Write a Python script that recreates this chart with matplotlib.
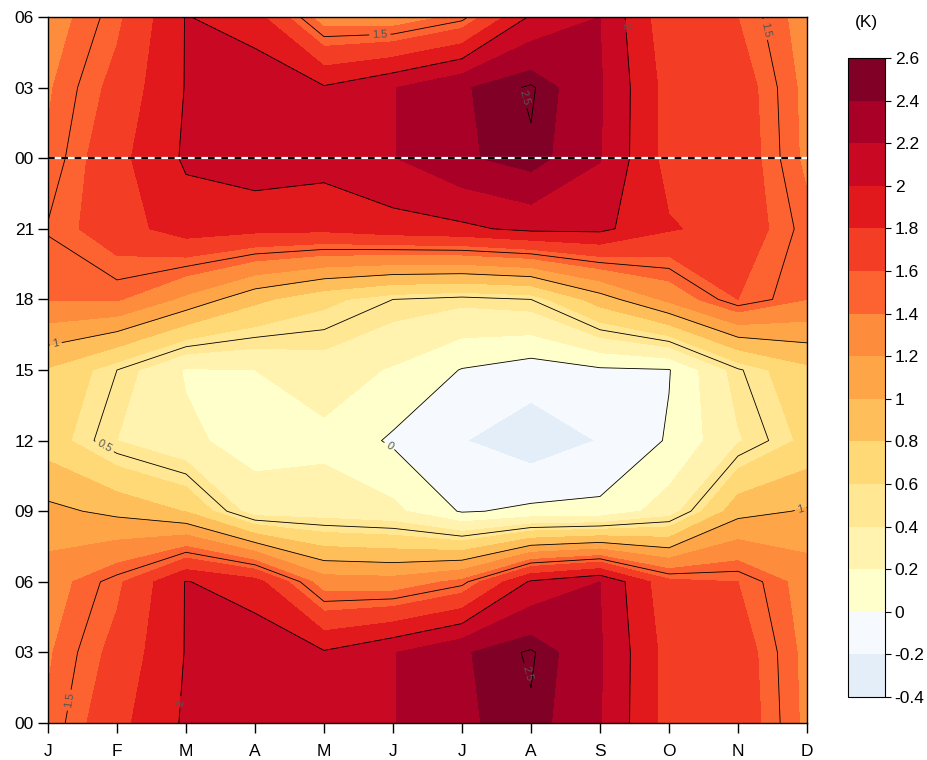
import numpy as np
import matplotlib
matplotlib.use("Agg")
import matplotlib.pyplot as plt
from matplotlib.ticker import FuncFormatter

plt.rcParams['font.family'] = ['Liberation Sans', 'DejaVu Sans']

# ---- data -------------------------------------------------------------
months = ['J', 'F', 'M', 'A', 'M', 'J', 'J', 'A', 'S', 'O', 'N', 'D']
hours = [0, 3, 6, 9, 12, 15, 18, 21]
hour_labels = ['00', '03', '06', '09', '12', '15', '18', '21', '00', '03', '06']

# diurnal values (K) per 3-hourly time, one value per month J..D
t_00 = [1.42, 1.74, 2.03, 2.12, 2.08, 2.19, 2.37, 2.48, 2.21, 1.72, 1.72, 1.36]
t_03 = [1.38, 1.66, 2.01, 2.15, 2.02, 2.19, 2.38, 2.52, 2.22, 1.72, 1.70, 1.35]
t_06 = [1.31, 1.56, 2.01, 1.88, 1.30, 1.28, 1.45, 2.03, 2.20, 1.65, 1.60, 1.32]
t_09 = [1.05, 0.95, 0.79, 0.30, 0.30, 0.25, -0.02, 0.04, 0.05, 0.30, 0.93, 1.02]
t_12 = [0.70, 0.40, 0.24, 0.12, 0.15, -0.03, -0.19, -0.32, -0.19, 0.02, 0.38, 0.65]
t_15 = [0.78, 0.50, 0.18, 0.20, 0.30, 0.18, -0.01, -0.10, -0.03, -0.01, 0.48, 0.75]
t_18 = [1.41, 1.42, 1.15, 0.85, 0.65, 0.50, 0.45, 0.50, 0.90, 1.25, 1.60, 1.40]
t_21 = [1.51, 1.71, 1.90, 1.86, 1.85, 1.92, 1.96, 2.05, 2.05, 1.82, 1.72, 1.45]

fill_levels = np.round(np.arange(-0.4, 2.61, 0.2), 1)
line_levels = [0, 0.5, 1, 1.5, 2, 2.5]

# ---- build grid (repeat first 6 h after midnight on top) ---------------
daily = [t_00, t_03, t_06, t_09, t_12, t_15, t_18, t_21]
rows = daily + [t_00, t_03, t_06]
Z = np.array(rows)
yy = np.array(hours + [24, 27, 30])
xx = np.arange(len(months))
X, Y = np.meshgrid(xx, yy)

cmap_y = plt.get_cmap('YlOrRd')
fill_colors = ['#e3eef9', '#f6f9fe'] + [cmap_y(i / 12) for i in range(13)]

# ---- figure -----------------------------------------------------------
W, H = 928, 760
fig = plt.figure(figsize=(W / 100, H / 100), dpi=100)
ax = fig.add_axes([48 / W, 1 - 723 / H, (807 - 48) / W, (723 - 17) / H])
cax = fig.add_axes([848 / W, 1 - 697 / H, 37 / W, (697 - 58) / H])

cf = ax.contourf(X, Y, Z, levels=fill_levels, colors=fill_colors)
cs = ax.contour(X, Y, Z, levels=line_levels, colors='black', linewidths=0.6)

label_pos = [(4.81, 29.3), (10.36, 29.45), (8.36, 29.6), (6.94, 26.6),
             (0.1, 16.3), (0.83, 11.8), (4.91, 11.6), (10.9, 9.2),
             (0.25, 1.0), (1.84, 0.9), (6.94, 2.1)]
ax.clabel(cs, manual=label_pos, inline=True, inline_spacing=3,
          fontsize=8, fmt='%g', colors='#555555')

# midnight dashed line
ax.axhline(24, color='white', lw=1.6, zorder=5)
ax.axhline(24, color='black', lw=1.6, linestyle=(0, (3, 3)), zorder=6)

ax.set_xlim(0, 11)
ax.set_ylim(0, 30)
ax.set_xticks(xx)
ax.set_xticklabels(months)
ax.set_yticks(np.arange(0, 31, 3))
ax.set_yticklabels(hour_labels)
ax.tick_params(axis='both', direction='out', length=7, width=1,
               labelsize=12.5, top=False, right=False)
ax.tick_params(axis='x', pad=8)
ax.tick_params(axis='y', pad=3)
for sp in ax.spines.values():
    sp.set_linewidth(1.0)

cb = fig.colorbar(cf, cax=cax, ticks=fill_levels)
cb.ax.yaxis.set_major_formatter(FuncFormatter(lambda v, p: f'{v:g}'))
cb.ax.tick_params(labelsize=12.5, length=4, width=0.8, direction='out', pad=3)
cb.outline.set_linewidth(0.8)
fig.text(866 / W, 1 - 22 / H, '(K)', ha='center', va='center', fontsize=12.5)

fig.savefig('out.png', dpi=100)
